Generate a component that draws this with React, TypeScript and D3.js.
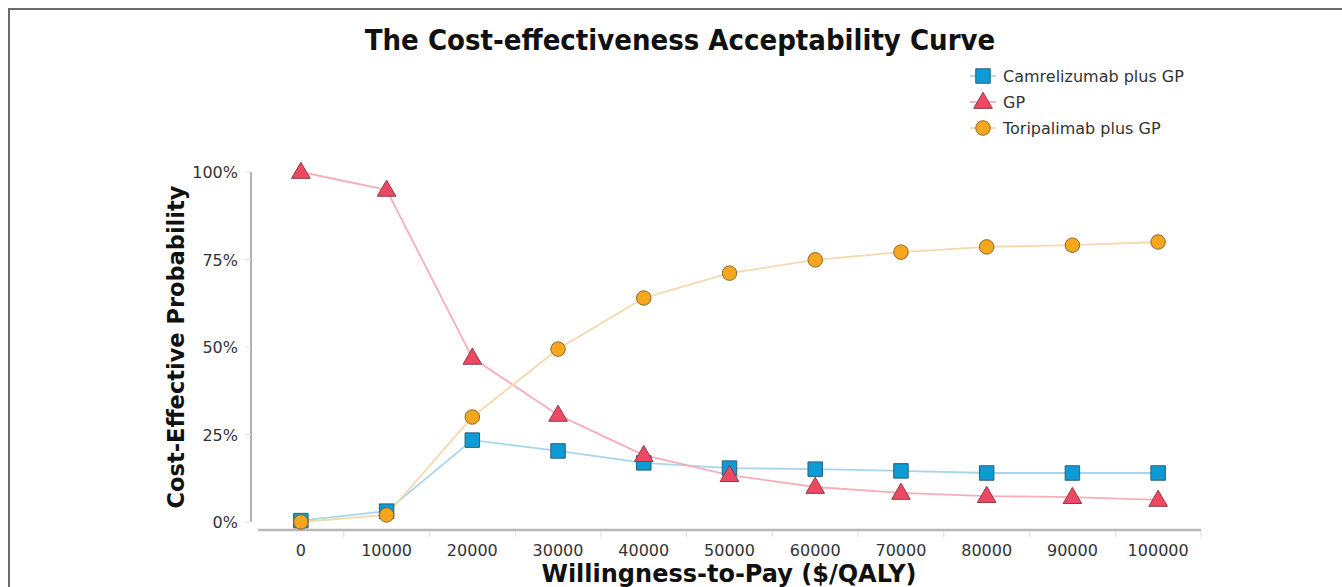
import React, { useEffect, useRef } from 'react';
import * as d3 from 'd3';

// Willingness-to-pay thresholds ($/QALY)
const wtp = [0, 10000, 20000, 30000, 40000, 50000, 60000, 70000, 80000, 90000, 100000];

// Probability of being cost-effective (%)
const camrelizumab = [0.4, 3.1, 23.4, 20.3, 16.9, 15.4, 15.1, 14.6, 14.0, 14.0, 14.0];
const gp = [100, 94.9, 46.9, 30.6, 19.1, 13.4, 10.0, 8.3, 7.4, 7.1, 6.3];
const toripalimab = [0, 2.0, 30.0, 49.4, 64.0, 71.1, 74.9, 77.1, 78.6, 79.1, 80.0];

const yTicks = [0, 25, 50, 75, 100];

const series = [
  { name: 'Camrelizumab plus GP', values: camrelizumab, line: '#a8d5ec', fill: '#0c9bd5', stroke: '#2f5f78', shape: 'square' },
  { name: 'GP', values: gp, line: '#f5aebb', fill: '#ee4862', stroke: '#8c3b47', shape: 'triangle' },
  { name: 'Toripalimab plus GP', values: toripalimab, line: '#f3d9ad', fill: '#f6a71d', stroke: '#8a6629', shape: 'circle' },
];

const W = 1342;
const H = 587;
const FONT = '"DejaVu Sans", Verdana, sans-serif';

export default function App() {
  const svgRef = useRef<SVGSVGElement>(null);

  useEffect(() => {
    if (!svgRef.current) return;
    const svg = d3.select(svgRef.current);
    svg.selectAll('*').remove();

    // frame
    svg.append('path')
      .attr('d', `M9,${H} L9,9 L${W},9`)
      .attr('fill', 'none')
      .attr('stroke', '#6a6a6a')
      .attr('stroke-width', 2);

    // Scales
    const x = d3.scaleBand<number>().domain(wtp).range([258, 1201]);
    const cx = (v: number) => (x(v) || 0) + x.bandwidth() / 2;
    const y = d3.scaleLinear().domain([0, 100]).range([522, 172]);

    // Title
    svg.append('text')
      .attr('x', 680)
      .attr('y', 50)
      .attr('text-anchor', 'middle')
      .attr('font-family', '"DejaVu Sans Condensed", "DejaVu Sans", sans-serif')
      .attr('font-stretch', 'condensed')
      .attr('font-weight', 'bold')
      .attr('font-size', 29)
      .attr('fill', '#111')
      .text('The Cost-effectiveness Acceptability Curve');

    // X axis
    const xAxis = svg.append('g').attr('transform', 'translate(0,530)');
    xAxis.append('line')
      .attr('x1', 258).attr('x2', 1201)
      .attr('stroke', '#b8b8b8').attr('stroke-width', 2.5);
    xAxis.selectAll('.xtick')
      .data(wtp.slice(1).concat([Infinity]))
      .enter()
      .append('line')
      .attr('x1', (d, i) => 258 + (i + 1) * x.bandwidth())
      .attr('x2', (d, i) => 258 + (i + 1) * x.bandwidth())
      .attr('y1', 1).attr('y2', 7)
      .attr('stroke', '#dcdcdc');
    xAxis.selectAll('.xlabel')
      .data(wtp)
      .enter()
      .append('text')
      .attr('x', d => cx(d))
      .attr('y', 26)
      .attr('text-anchor', 'middle')
      .attr('font-family', FONT)
      .attr('font-size', 16)
      .attr('fill', '#333')
      .text(d => String(d));

    svg.append('text')
      .attr('x', 729)
      .attr('y', 582)
      .attr('text-anchor', 'middle')
      .attr('font-family', FONT)
      .attr('font-weight', 'bold')
      .attr('font-size', 24)
      .attr('fill', '#111')
      .text('Willingness-to-Pay ($/QALY)');

    // Y axis
    const yAxis = svg.append('g');
    yAxis.append('line')
      .attr('x1', 251).attr('x2', 251)
      .attr('y1', y(100)).attr('y2', y(0))
      .attr('stroke', '#b0b0b0').attr('stroke-width', 2);
    yAxis.selectAll('.ytick')
      .data(yTicks)
      .enter()
      .append('line')
      .attr('x1', 245).attr('x2', 251)
      .attr('y1', d => y(d)).attr('y2', d => y(d))
      .attr('stroke', '#e2e2e2');
    yAxis.selectAll('.ylabel')
      .data(yTicks)
      .enter()
      .append('text')
      .attr('x', 238)
      .attr('y', d => y(d) + 6)
      .attr('text-anchor', 'end')
      .attr('font-family', FONT)
      .attr('font-size', 16)
      .attr('fill', '#333')
      .text(d => `${d}%`);

    svg.append('text')
      .attr('transform', 'translate(184,347) rotate(-90)')
      .attr('text-anchor', 'middle')
      .attr('font-family', FONT)
      .attr('font-weight', 'bold')
      .attr('font-size', 22.5)
      .attr('fill', '#111')
      .text('Cost-Effective Probability');

    const symbolOf = (shape: string) =>
      shape === 'square' ? d3.symbolSquare : shape === 'triangle' ? d3.symbolTriangle : d3.symbolCircle;
    const sizeOf = (shape: string) => (shape === 'square' ? 210 : shape === 'triangle' ? 150 : 165);

    const line = d3.line<number>()
      .x((d, i) => cx(wtp[i]))
      .y(d => y(d))
      .curve(d3.curveLinear);

    // lines first
    series.forEach(s => {
      svg.append('path')
        .datum(s.values)
        .attr('d', line)
        .attr('fill', 'none')
        .attr('stroke', s.line)
        .attr('stroke-width', 1.8);
    });

    // markers
    series.forEach(s => {
      const sym = d3.symbol().type(symbolOf(s.shape)).size(sizeOf(s.shape));
      svg.append('g')
        .selectAll('path')
        .data(s.values)
        .enter()
        .append('path')
        .attr('transform', (d, i) => `translate(${cx(wtp[i])},${y(d) + (s.shape === 'triangle' ? 1 : 0)})`)
        .attr('d', sym)
        .attr('fill', s.fill)
        .attr('stroke', s.stroke)
        .attr('stroke-width', 1);
    });

    // Legend
    const legend = svg.append('g').attr('transform', 'translate(982,76)');
    series.forEach((s, i) => {
      const g = legend.append('g').attr('transform', `translate(0,${i * 26})`);
      g.append('line')
        .attr('x1', -12).attr('x2', 14)
        .attr('stroke', s.line).attr('stroke-width', 1.8);
      g.append('path')
        .attr('d', d3.symbol().type(symbolOf(s.shape)).size(sizeOf(s.shape))())
        .attr('transform', `translate(1,${s.shape === 'triangle' ? 1 : 0})`)
        .attr('fill', s.fill)
        .attr('stroke', s.stroke)
        .attr('stroke-width', 1);
      g.append('text')
        .attr('x', 21)
        .attr('y', 6)
        .attr('font-family', FONT)
        .attr('font-size', 16)
        .attr('fill', '#333')
        .text(s.name);
    });
  }, []);

  return (
    <div style={{ position: 'absolute', left: 0, top: 0, width: W, height: H, background: '#fff' }}>
      <svg ref={svgRef} width={W} height={H}></svg>
    </div>
  );
}
